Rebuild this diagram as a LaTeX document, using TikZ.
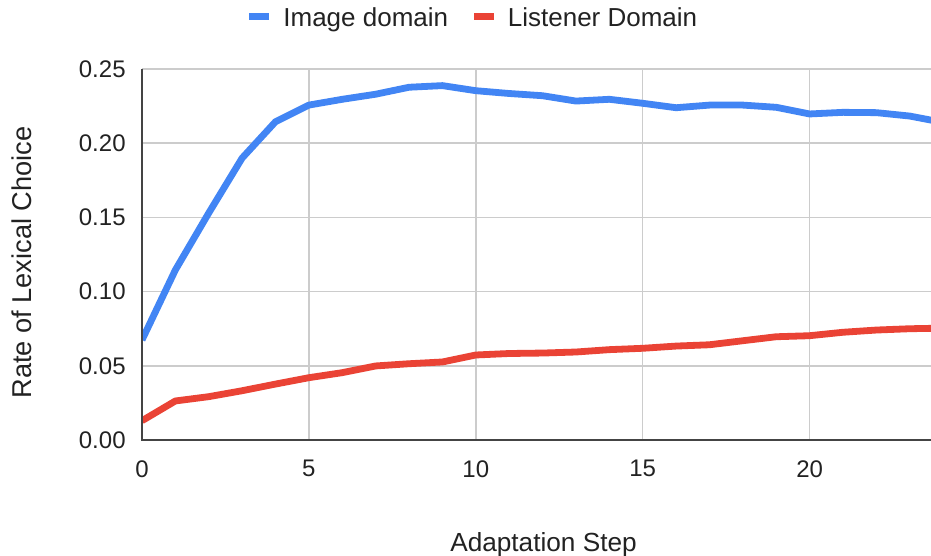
\documentclass[tikz,border=0pt]{standalone}
\usepackage{fontspec}
\setmainfont{Liberation Sans}
\definecolor{seriesblue}{HTML}{4285F4}
\definecolor{seriesred}{HTML}{EA4335}
\definecolor{gridgray}{HTML}{CCCCCC}
\definecolor{axisgray}{HTML}{444444}
\definecolor{labeltext}{HTML}{222222}

\begin{document}
\begin{tikzpicture}[x=0.5pt,y=-0.5pt,
  ticklabel/.style={font=\fontsize{12}{14}\selectfont, text=labeltext, inner sep=0pt},
  titlelabel/.style={font=\fontsize{13}{15}\selectfont, text=labeltext, inner sep=0pt},
  gridline/.style={draw=gridgray, line width=0.75pt},
  axisline/.style={draw=axisgray, line width=1pt},
  series/.style={line width=3.4pt, line join=round},
  swatch/.style={inner sep=0pt, minimum width=10pt, minimum height=3.5pt}]
\useasboundingbox (0,0) rectangle (931,556);
\fill[white] (0,0) rectangle (931,556);

% plot area in data units: x = adaptation step, y = rate
\begin{scope}[shift={(142,440)}, xscale=33.38, yscale=-1484]
  \def\xmax{23.64}
  % horizontal grid and y tick labels
  \foreach \v/\t in {0.05/0.05,0.1/0.10,0.15/0.15,0.2/0.20,0.25/0.25}
    \draw[gridline] (0,\v) -- (\xmax,\v);
  \foreach \v/\t [count=\i] in {0/0.00,0.05/0.05,0.1/0.10,0.15/0.15,0.2/0.20,0.25/0.25}
    \node[ticklabel, anchor=east, xshift=-8pt] (ytick\i) at (0,\v) {\t};
  % vertical grid and x tick labels
  \foreach \u in {5,10,15,20}
    \draw[gridline] (\u,0) -- (\u,0.25);
  \foreach \u in {0,5,10,15,20}
    \node[ticklabel, anchor=north, yshift=-10pt] (xtick\u) at (\u,0) {\u};

  % data series
  \begin{scope}
    \clip (0,-0.01) rectangle (\xmax,0.27);
    \draw[series, seriesblue] plot coordinates {
      (0,0.0674) (1,0.1146) (2,0.153) (3,0.190) (4,0.2145) (5,0.2257)
      (6,0.2296) (7,0.2330) (8,0.2377) (9,0.2388) (10,0.2354) (11,0.2335)
      (12,0.232) (13,0.2284) (14,0.2296) (15,0.2269) (16,0.2239) (17,0.2257)
      (18,0.2257) (19,0.2242) (20,0.2197) (21,0.2208) (22,0.2206) (23,0.2183)
      (24,0.2140)};
    \draw[series, seriesred] plot coordinates {
      (0,0.0130) (1,0.0263) (2,0.0292) (3,0.0332) (4,0.0377) (5,0.0420)
      (6,0.0454) (7,0.0499) (8,0.0514) (9,0.0526) (10,0.0573) (11,0.0583)
      (12,0.0586) (13,0.0593) (14,0.0609) (15,0.0618) (16,0.0633) (17,0.0642)
      (18,0.0669) (19,0.0696) (20,0.0703) (21,0.0726) (22,0.0741) (23,0.0750)
      (24,0.0754)};
  \end{scope}

  % axes
  \draw[axisline] (0,0.25) -- (0,0) -- (\xmax,0);
\end{scope}

% axis titles
\node[titlelabel, font=\fontsize{13.1}{15}\selectfont, anchor=base] (xtitle) at (543.5,551.5) {Adaptation Step};
\node[titlelabel, font=\fontsize{13.6}{15}\selectfont, anchor=base, rotate=90] (ytitle) at (31.5,262.5) {Rate of Lexical Choice};

% legend
\node[swatch, fill=seriesblue] (keyblue) at (259,16.5) {};
\node[titlelabel, anchor=base west] (keybluetext) at (283,26.5) {Image domain};
\node[swatch, fill=seriesred] (keyred) at (484,16.5) {};
\node[titlelabel, anchor=base west] (keyredtext) at (507.5,26.5) {Listener Domain};
\end{tikzpicture}
\end{document}
